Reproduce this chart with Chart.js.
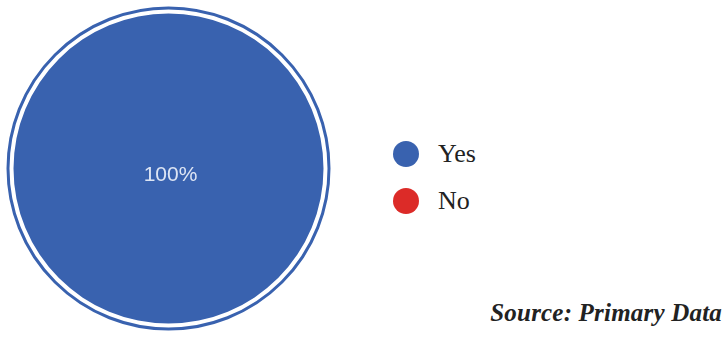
<!DOCTYPE html>
<html>
<head>
<meta charset="utf-8">
<script src="https://cdn.jsdelivr.net/npm/chart.js@4.4.1/dist/chart.umd.min.js"></script>
<style>
  html, body { margin: 0; padding: 0; background: #fff; }
  #wrap { position: relative; width: 726px; height: 339px; overflow: hidden; }
  #pieBox { position: absolute; left: 0; top: 0; width: 337px; height: 337px; }
  #legend { position: absolute; left: 393px; top: 141px; }
  .row { display: flex; align-items: center; height: 26px; margin-bottom: 21px; }
  .dot { width: 26px; height: 26px; border-radius: 50%; margin-right: 19px; }
  .txt { font: 26px/26px "Liberation Serif", "Times New Roman", serif; color: #222; }
  #source {
    position: absolute; right: 4px; top: 300px; letter-spacing: 0.2px;
    font: italic bold 25px/25px "Liberation Serif", "Times New Roman", serif; color: #222;
  }
</style>
</head>
<body>
<div id="wrap">
  <div id="pieBox"><canvas id="pie"></canvas></div>
  <div id="legend"></div>
  <div id="source">Source: Primary Data</div>
</div>
<script>
const labels = ['Yes', 'No'];
const answers = [100, 0];
const colors = ['#3962af', '#dc2b28'];

// thin outline ring drawn just outside the pie, with a white gap
const outerRing = {
  id: 'outerRing',
  afterDatasetsDraw(chart) {
    const arc = chart.getDatasetMeta(0).data[0];
    if (!arc) return;
    const ctx = chart.ctx;
    ctx.save();
    ctx.beginPath();
    ctx.arc(arc.x, arc.y, arc.outerRadius + 5.5, 0, Math.PI * 2);
    ctx.lineWidth = 3;
    ctx.strokeStyle = colors[0];
    ctx.stroke();
    ctx.restore();
  }
};

// percentage labels inside the slices
const sliceLabels = {
  id: 'sliceLabels',
  afterDatasetsDraw(chart) {
    const ctx = chart.ctx;
    const meta = chart.getDatasetMeta(0);
    const total = answers.reduce((a, b) => a + b, 0);
    ctx.save();
    ctx.font = '21px "Liberation Sans", Arial, sans-serif';
    ctx.fillStyle = 'rgba(236, 240, 250, 0.92)';
    ctx.textAlign = 'center';
    ctx.textBaseline = 'middle';
    meta.data.forEach((arc, i) => {
      const v = answers[i];
      if (!v) return;
      const pct = Math.round(v / total * 100) + '%';
      let x = arc.x + 2, y = arc.y + 7;
      if (v < total) {
        const p = arc.tooltipPosition();
        x = p.x; y = p.y;
      }
      ctx.fillText(pct, x, y);
    });
    ctx.restore();
  }
};

const chart = new Chart(document.getElementById('pie'), {
  type: 'pie',
  data: {
    labels: labels,
    datasets: [{
      data: answers,
      backgroundColor: colors,
      borderWidth: 0,
      hoverOffset: 0
    }]
  },
  options: {
    responsive: true,
    maintainAspectRatio: false,
    animation: false,
    layout: { padding: 13.5 },
    plugins: {
      legend: { display: false },
      tooltip: { enabled: false }
    }
  },
  plugins: [outerRing, sliceLabels]
});

// legend built from the same labels and colours
const legendEl = document.getElementById('legend');
labels.forEach((name, i) => {
  const row = document.createElement('div');
  row.className = 'row';
  const dot = document.createElement('span');
  dot.className = 'dot';
  dot.style.background = colors[i];
  const txt = document.createElement('span');
  txt.className = 'txt';
  txt.textContent = name;
  row.appendChild(dot);
  row.appendChild(txt);
  legendEl.appendChild(row);
});
</script>
</body>
</html>
